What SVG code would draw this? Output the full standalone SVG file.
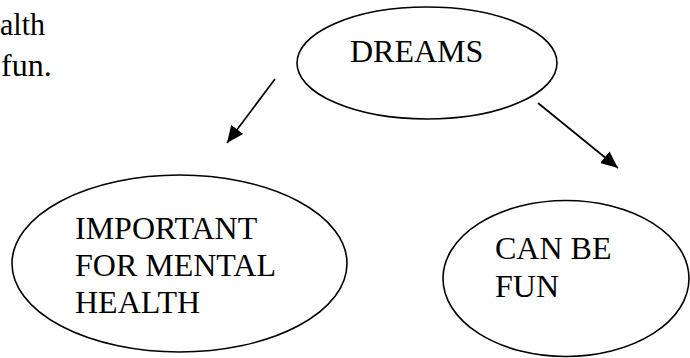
<svg xmlns="http://www.w3.org/2000/svg" width="690" height="358" viewBox="0 0 690 358">
<style>
text{font-family:"Liberation Serif","Times New Roman",serif;font-size:32px;fill:#000}
.n{fill:#fff;stroke:#000;stroke-width:1.6}
.c{stroke:#000;stroke-width:1.7;fill:none}
</style>
<defs>
<marker id="ah" markerUnits="userSpaceOnUse" markerWidth="17" markerHeight="15" viewBox="0 0 17 15" refX="17" refY="7.5" orient="auto">
<path d="M0,0 L17,7.5 L0,15 z" fill="#000"/>
</marker>
</defs>
<g id="page-text">
<text x="0" y="35" textLength="45" lengthAdjust="spacingAndGlyphs">alth</text>
<text x="1" y="76">fun.</text>
</g>
<g id="connectors">
<line class="c" x1="275" y1="79" x2="227" y2="143" marker-end="url(#ah)"/>
<line class="c" x1="538" y1="103" x2="618" y2="168" marker-end="url(#ah)"/>
</g>
<g id="dreams">
<ellipse class="n" cx="427" cy="63" rx="130" ry="56"/>
<text x="350" y="62">DREAMS</text>
</g>
<g id="important">
<ellipse class="n" cx="179.5" cy="263.5" rx="167.5" ry="88.5"/>
<text x="75" y="239">IMPORTANT</text>
<text x="75" y="276">FOR MENTAL</text>
<text x="75" y="313">HEALTH</text>
</g>
<g id="fun">
<ellipse class="n" cx="566" cy="278.5" rx="123" ry="78"/>
<text x="495" y="259">CAN BE</text>
<text x="495" y="297">FUN</text>
</g>
</svg>
